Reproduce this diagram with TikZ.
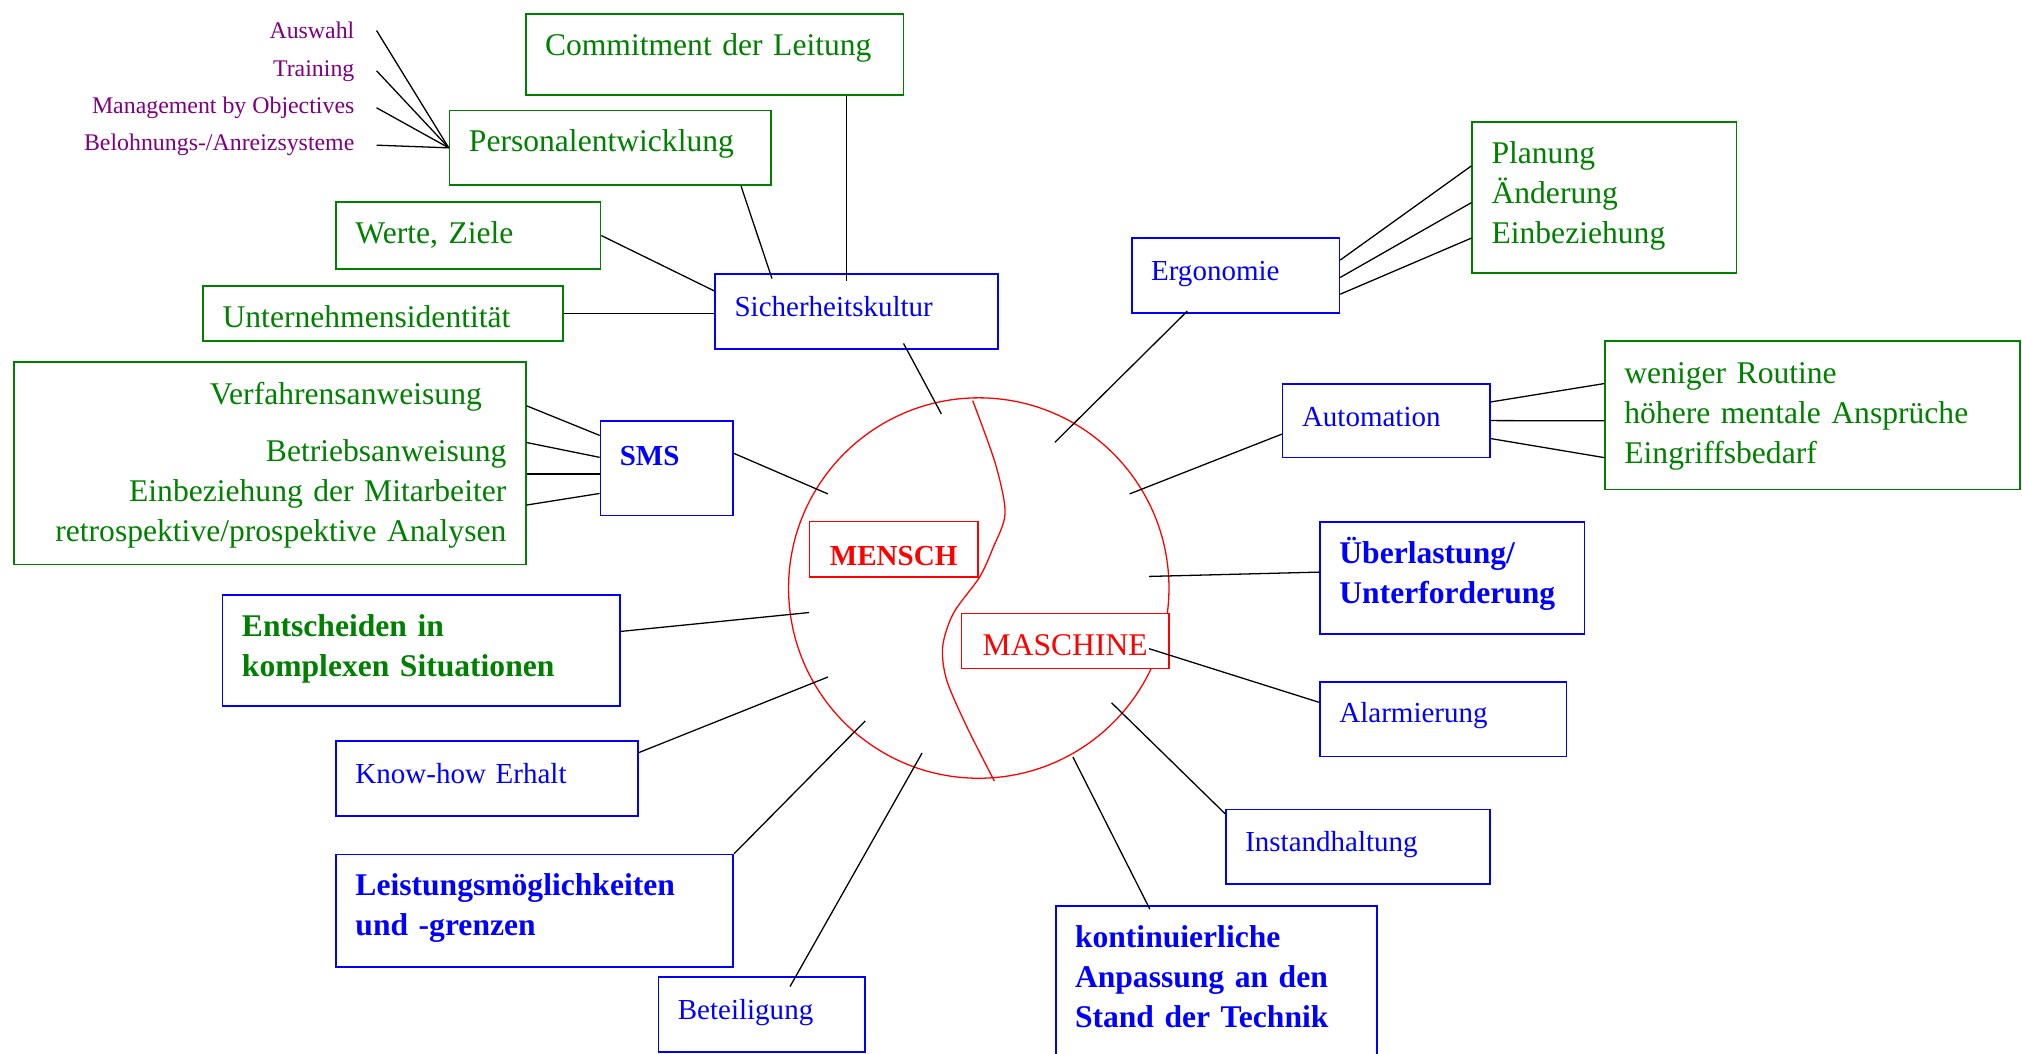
\documentclass[tikz,border=0pt]{standalone}
\usepackage{fontspec}
\setmainfont{Liberation Serif}

\definecolor{grn}{RGB}{0,128,0}
\definecolor{blu}{RGB}{0,0,255}
\definecolor{pur}{RGB}{128,0,128}

\newcommand{\fntbig}{\fontsize{24.5pt}{31pt}\selectfont}
\newcommand{\fntsmall}{\fontsize{22.5pt}{28pt}\selectfont}
\newcommand{\fntlab}{\fontsize{18.5pt}{22pt}\selectfont}

\tikzset{
  box/.style={draw, anchor=north west, inner xsep=15pt, inner ysep=0pt, align=left, line width=1.3pt},
  gbox/.style={box, draw=grn, text=grn, font=\fntbig},
  bbox/.style={box, draw=blu, text=blu, font=\fntsmall},
  rbox/.style={draw=red, text=red, fill=white, anchor=north west, inner sep=0pt, line width=1pt},
  lab/.style={anchor=base east, inner sep=0pt, text=pur, font=\fntlab},
  link/.style={line width=1pt}
}

\begin{document}
\begin{tikzpicture}[x=1pt, y=-1pt]
\useasboundingbox (0,0) rectangle (1568,817);

% Kreis Mensch / Maschine
\node[draw=red, line width=1pt, circle, minimum size=295pt, inner sep=0pt] (core) at (759,456) {};
\draw[red, line width=1pt] plot[smooth] coordinates {(754.3,310.7) (772,360) (779.4,398) (770,425) (759.5,447.7) (739.3,475.6) (731,501.5) (734.1,527.3) (749.7,563.5) (771.1,605.7)};
\node[rbox, minimum width=131pt, text height=34pt, text depth=9pt, font=\fntsmall\bfseries] (mensch) at (627,404) {MENSCH};
\node[rbox, minimum width=161pt, text height=33pt, text depth=10pt, font=\fntbig] (masch) at (745,475) {MASCHINE};

% Enden im Kreis
\coordinate (c1) at (730,321);
\coordinate (c2) at (642,383);
\coordinate (c3) at (627.4,475);
\coordinate (c4) at (642,525);
\coordinate (c5) at (671,559);
\coordinate (c6) at (715,584);
\coordinate (c7) at (832,587);
\coordinate (c8) at (862,545);
\coordinate (c9) at (891,503);
\coordinate (c10) at (891,447);
\coordinate (c11) at (876,383);
\coordinate (c12) at (818,343);

% Sicherheitskultur
\node[lab] (aus) at (275,30) {Auswahl};
\node[lab] (train) at (275,59) {Training};
\node[lab] (mbo) at (275,88) {Management by Objectives};
\node[lab] (lohn) at (275,117) {Belohnungs-/Anreizsysteme};

\node[gbox, text width=263pt, text height=32pt, text depth=31pt] (commit) at (407,10) {Commitment der Leitung};
\node[gbox, text width=219pt, text height=32pt, text depth=26pt] (pers) at (348,85) {Personalentwicklung};
\node[gbox, text width=175pt, text height=32pt, text depth=20pt] (werte) at (260,156) {Werte, Ziele};
\node[gbox, text width=249pt, text height=32pt, text depth=11pt] (unter) at (157,221) {Unternehmensidentität};
\node[bbox, text width=189pt, text height=33pt, text depth=25pt] (sicher) at (554,212) {Sicherheitskultur};

% SMS
\node[gbox, align=right, text width=367pt, text height=33pt, text depth=124pt] (verf) at (10,280) {Verfahrensanweisung\hspace{19pt}\mbox{}\\[13pt] Betriebsanweisung\\ Einbeziehung der Mitarbeiter\\ retrospektive/prospektive Analysen};
\node[bbox, font=\fntsmall\bfseries, text width=73pt, text height=34pt, text depth=39pt] (sms) at (465,326) {SMS};

% Mensch
\node[bbox, text=grn, font=\fntbig\bfseries, text width=278pt, text height=32pt, text depth=54pt] (entsch) at (172,461) {Entscheiden in\\ komplexen Situationen};
\node[bbox, text width=204pt, text height=33pt, text depth=25pt] (know) at (260,574) {Know-how Erhalt};
\node[bbox, font=\fntbig\bfseries, text width=278pt, text height=32pt, text depth=55pt] (leist) at (260,662) {Leistungsmöglichkeiten\\ und -grenzen};
\node[bbox, text width=130pt, text height=33pt, text depth=25pt] (betei) at (510,757) {Beteiligung};

% Maschine
\node[bbox, text width=131pt, text height=33pt, text depth=25pt] (ergo) at (877,184) {Ergonomie};
\node[gbox, text width=175pt, text height=32pt, text depth=85pt] (plan) at (1141,94) {Planung\\ Änderung\\ Einbeziehung};
\node[bbox, text width=131pt, text height=33pt, text depth=24pt] (auto) at (994,297) {Automation};
\node[gbox, text width=292pt, text height=33pt, text depth=82pt] (wenig) at (1244,264) {weniger Routine\\ höhere mentale Ansprüche\\ Eingriffsbedarf};
\node[bbox, font=\fntbig\bfseries, text width=175pt, text height=32pt, text depth=55pt] (uber) at (1023,404) {Überlastung/\\ Unterforderung};
\node[bbox, text width=161pt, text height=32pt, text depth=26pt] (alarm) at (1023,528) {Alarmierung};
\node[bbox, text width=175pt, text height=33pt, text depth=25pt] (inst) at (950,627) {Instandhaltung};
\node[bbox, font=\fntbig\bfseries, text width=219pt, text height=32pt, text depth=88pt] (konti) at (818,702) {kontinuierliche\\ Anpassung an den\\ Stand der Technik};

% Verbindungen
\foreach \n in {aus,train,mbo,lohn}
  \draw[link] ([xshift=17pt]\n.east) -- (pers.west);
\draw[link] ([xshift=102.5pt]commit.south) -- ([xshift=-7.5pt,yshift=-6pt]sicher.north);
\draw[link] ([xshift=101.5pt]pers.south) -- ([xshift=-65.5pt,yshift=-4pt]sicher.north);
\draw[link] (werte.east) -- ([yshift=16pt]sicher.west);
\draw[link] (unter.east) -- (unter.east -| sicher.west);
\draw[link] ([xshift=36.5pt,yshift=5pt]sicher.south) -- (c1);

\foreach \a/\b in {44.5/25.5, 16/8.5, -8.5/-4.5, -32.5/-19.5}
  \draw[link] ([yshift=\a pt]verf.east) -- ([yshift=\b pt]sms.west);
\draw[link] ([yshift=11.5pt]sms.east) -- (c2);

\draw[link] ([yshift=15pt]entsch.east) -- (c3);
\draw[link] ([yshift=20pt]know.east) -- (c4);
\draw[link] (leist.north east) -- (c5);
\draw[link] ([xshift=22pt,yshift=-8pt]betei.north) -- (c6);

\foreach \a/\b in {12/24.5, -1.5/-4, -14.5/-31.5}
  \draw[link] ([yshift=\a pt]ergo.east) -- ([yshift=\b pt]plan.west);
\foreach \a/\b in {14.5/24.7, 0/-4.2, -14/-32.7}
  \draw[link] ([yshift=\a pt]auto.east) -- ([yshift=\b pt]wenig.west);
\draw[link] ([xshift=-37.5pt,yshift=2pt]ergo.south) -- (c12);
\draw[link] ([yshift=-10.5pt]auto.west) -- (c11);
\draw[link] ([yshift=4.5pt]uber.west) -- (c10);
\draw[link] ([yshift=13pt]alarm.west) -- (c9);
\draw[link] ([yshift=-4pt]inst.north west) -- (c8);
\draw[link] ([xshift=-51.5pt,yshift=-3pt]konti.north) -- (c7);

\end{tikzpicture}
\end{document}
